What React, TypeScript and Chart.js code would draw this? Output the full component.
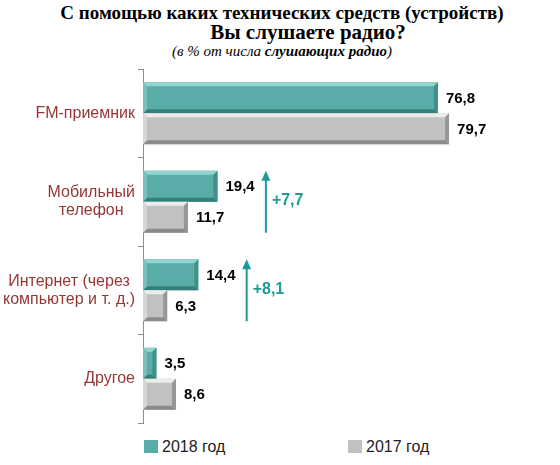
import { useEffect, useRef } from "react";
import { Chart, registerables } from "chart.js";

Chart.register(...registerables);

const CATEGORIES = [
  ["FM-приемник"],
  ["Мобильный", "телефон"],
  ["Интернет (через", "компьютер и т. д.)"],
  ["Другое"],
];
const SERIES_NAMES = ["2018 год", "2017 год"];
const VALUES_2018 = [76.8, 19.4, 14.4, 3.5];
const VALUES_2017 = [79.7, 11.7, 6.3, 8.6];
// growth arrows: which category, where on the value axis, caption
const CHANGE_CATEGORY = [1, 2];
const CHANGE_AT = [32, 27];
const CHANGE_TEXT = ["+7,7", "+8,1"];

const FONT = 'Arial, "Liberation Sans", sans-serif';
const LABEL_RED = "#953735";
const ARROW_TEAL = "#1f9a95";

const SHADES = [
  { face: "#5aaca8", top: "#93d4d0", left: "#79c0bc", right: "#3f8f8b", bottom: "#357f7b" },
  { face: "#c1c1c1", top: "#ececec", left: "#d6d6d6", right: "#979797", bottom: "#8a8a8a" },
];

const fmt = (v: number) => v.toFixed(1).replace(".", ",");

const bevelPlugin = {
  id: "bevel",
  afterDatasetsDraw(chart: any) {
    const ctx = chart.ctx;
    chart.data.datasets.forEach((_: any, di: number) => {
      const s = SHADES[di];
      chart.getDatasetMeta(di).data.forEach((bar: any) => {
        const { x, y, base, height } = bar.getProps(["x", "y", "base", "height"], true);
        const l = Math.min(x, base), r = Math.max(x, base);
        const t = y - height / 2, b = y + height / 2;
        const e = Math.min(4, (r - l) / 2);
        const poly = (pts: number[][], c: string) => {
          ctx.beginPath();
          ctx.moveTo(pts[0][0], pts[0][1]);
          pts.slice(1).forEach((p) => ctx.lineTo(p[0], p[1]));
          ctx.closePath();
          ctx.fillStyle = c;
          ctx.fill();
        };
        ctx.save();
        poly([[l, t], [r, t], [r - e, t + e], [l + e, t + e]], s.top);
        poly([[l, b], [r, b], [r - e, b - e], [l + e, b - e]], s.bottom);
        poly([[l, t], [l + e, t + e], [l + e, b - e], [l, b]], s.left);
        poly([[r, t], [r - e, t + e], [r - e, b - e], [r, b]], s.right);
        ctx.restore();
      });
    });
  },
};

const labelsPlugin = {
  id: "labels",
  afterDraw(chart: any) {
    const ctx = chart.ctx;
    const yScale = chart.scales.y;
    const xScale = chart.scales.x;
    ctx.save();

    // category labels, lines centred within each block, blocks right-aligned
    ctx.font = `16px ${FONT}`;
    ctx.fillStyle = LABEL_RED;
    ctx.textAlign = "center";
    ctx.textBaseline = "middle";
    const rightEdge = yScale.right - 8;
    CATEGORIES.forEach((lines, i) => {
      const w = Math.max(...lines.map((ln) => ctx.measureText(ln).width));
      const cy = yScale.getPixelForValue(i);
      const lh = 18;
      lines.forEach((ln, k) => {
        ctx.fillText(ln, rightEdge - w / 2, cy + (k - (lines.length - 1) / 2) * lh);
      });
    });

    // value labels
    ctx.font = `bold 15px ${FONT}`;
    ctx.fillStyle = "#000";
    ctx.textAlign = "left";
    chart.data.datasets.forEach((ds: any, di: number) => {
      chart.getDatasetMeta(di).data.forEach((bar: any, i: number) => {
        const { x, y } = bar.getProps(["x", "y"], true);
        ctx.fillText(fmt(ds.data[i]), x + 8, y + 1);
      });
    });

    // growth arrows
    CHANGE_CATEGORY.forEach((cat, k) => {
      const top = chart.getDatasetMeta(0).data[cat];
      const bottom = chart.getDatasetMeta(1).data[cat];
      const y0 = top.y - top.height / 2;
      const y1 = bottom.y + bottom.height / 2;
      const ax = xScale.getPixelForValue(CHANGE_AT[k]);
      ctx.strokeStyle = ARROW_TEAL;
      ctx.fillStyle = ARROW_TEAL;
      ctx.lineWidth = 2;
      ctx.beginPath();
      ctx.moveTo(ax, y1);
      ctx.lineTo(ax, y0 + 8);
      ctx.stroke();
      ctx.beginPath();
      ctx.moveTo(ax, y0);
      ctx.lineTo(ax - 4.5, y0 + 10);
      ctx.lineTo(ax + 4.5, y0 + 10);
      ctx.closePath();
      ctx.fill();
      ctx.font = `bold 16px ${FONT}`;
      ctx.textAlign = "left";
      ctx.fillText(CHANGE_TEXT[k], ax + 6, (y0 + y1) / 2 - 1);
    });
    ctx.restore();
  },
};

export default function App() {
  const canvasRef = useRef<HTMLCanvasElement>(null);

  useEffect(() => {
    if (!canvasRef.current) return;
    const chart = new Chart(canvasRef.current, {
      type: "bar",
      data: {
        labels: CATEGORIES.map((c) => c.join(" ")),
        datasets: [
          {
            label: SERIES_NAMES[0],
            data: VALUES_2018,
            backgroundColor: SHADES[0].face,
            categoryPercentage: 0.7,
            barPercentage: 1,
          },
          {
            label: SERIES_NAMES[1],
            data: VALUES_2017,
            backgroundColor: SHADES[1].face,
            categoryPercentage: 0.7,
            barPercentage: 1,
          },
        ],
      },
      options: {
        indexAxis: "y",
        animation: false,
        responsive: false,
        layout: { padding: { top: 9, bottom: 12, right: 33, left: 0 } },
        plugins: {
          legend: { display: false },
          tooltip: { enabled: false },
        },
        scales: {
          x: { display: false, min: 0, max: 100 },
          y: {
            ticks: { display: false },
            grid: {
              offset: true,
              drawOnChartArea: false,
              drawTicks: true,
              tickLength: 5,
              color: "#8c8c8c",
            },
            border: { display: true, color: "#8c8c8c", width: 1 },
            afterFit: (scale: any) => {
              scale.width = 143;
            },
          },
        },
      },
      plugins: [bevelPlugin, labelsPlugin],
    });
    return () => chart.destroy();
  }, []);

  const legendItem = (left: number, color: string, text: string) => (
    <div style={{ position: "absolute", left, top: 440, display: "flex", alignItems: "center" }}>
      <div style={{ width: 14, height: 13, background: color }} />
      <span style={{ marginLeft: 4, fontFamily: FONT, fontSize: 16, color: "#222", lineHeight: "13px" }}>
        {text}
      </span>
    </div>
  );

  return (
    <div style={{ position: "absolute", left: 0, top: 0, width: 560, height: 465, background: "#fff" }}>
      <div
        style={{
          position: "absolute",
          left: 0,
          top: 3,
          width: 564,
          textAlign: "center",
          fontFamily: '"Times New Roman", "Liberation Serif", serif',
          color: "#000",
        }}
      >
        <div style={{ fontWeight: "bold", fontSize: 19, lineHeight: "19px" }}>
          С помощью каких технических средств (устройств)
        </div>
        <div style={{ fontWeight: "bold", fontSize: 21, lineHeight: "20px", paddingLeft: 52 }}>
          Вы слушаете радио?
        </div>
        <div style={{ fontStyle: "italic", fontSize: 15, lineHeight: "19px" }}>
          (в % от числа <b>слушающих радио</b>)
        </div>
      </div>
      <canvas
        ref={canvasRef}
        width={560}
        height={375}
        style={{ position: "absolute", left: 0, top: 60, width: 560, height: 375 }}
      />
      {legendItem(144, SHADES[0].face, SERIES_NAMES[0])}
      {legendItem(348, SHADES[1].face, SERIES_NAMES[1])}
    </div>
  );
}
